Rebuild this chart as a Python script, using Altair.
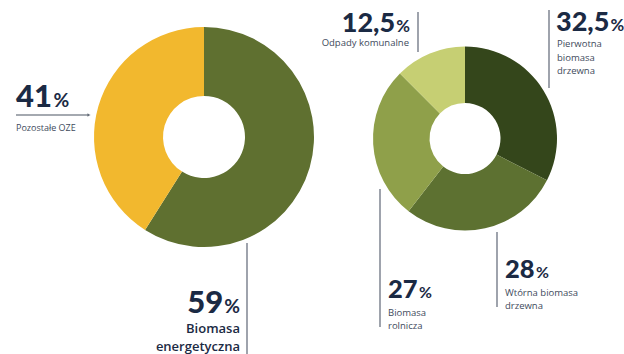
import altair as alt
import pandas as pd

# ---- data ----
left_labels = ["Biomasa energetyczna", "Pozostałe OZE"]
left_values = [59, 41]
left_colors = ["#5f7030", "#f2b82e"]

right_labels = ["Pierwotna biomasa drzewna", "Wtórna biomasa drzewna",
                "Biomasa rolnicza", "Odpady komunalne"]
right_values = [32.5, 28, 27, 12.5]
right_colors = ["#34461b", "#5d7131", "#8fa04a", "#c6cf73"]


def fmt(v):
    return (str(int(v)) if float(v).is_integer() else str(v)).replace(".", ",")


NAVY = "#1b2a44"
GREY = "#3e4a5c"
LINE = "#6b7280"
BIG_FONT = "Lato"
SMALL_FONT = "Open Sans"

dummy = alt.Data(values=[{"a": 1}])


def donut(labels, values, colors, cx, cy, r_in, r_out):
    df = pd.DataFrame({"label": labels, "value": values, "idx": range(len(labels))})
    return alt.Chart(df).mark_arc(innerRadius=r_in, outerRadius=r_out, stroke=None).encode(
        theta=alt.Theta("value:Q", stack=True),
        order=alt.Order("idx:Q"),
        color=alt.Color("label:N", scale=alt.Scale(domain=labels, range=colors), legend=None),
        x=alt.value(cx),
        y=alt.value(cy),
    )


def txt(s, x, y, size, align="left", baseline="alphabetic", color=NAVY,
        font=SMALL_FONT, weight="normal", line_height=None):
    kw = dict(text=s, fontSize=size, align=align, baseline=baseline, color=color,
              font=font, fontWeight=weight)
    if line_height:
        kw["lineHeight"] = line_height
    return alt.Chart(dummy).mark_text(**kw).encode(x=alt.value(x), y=alt.value(y))


def big(value, x, y, size, align="left"):
    num = fmt(value)
    pct_size = size * 0.62
    num_w = size * 0.58 * len(num.replace(",", "")) + (size * 0.22 if "," in num else 0)
    gap = 1.5
    if align == "left":
        return [txt(num, x, y, size, "left", font=BIG_FONT, weight=900),
                txt("%", x + num_w + gap, y, pct_size, "left", font=BIG_FONT, weight=700)]
    pct_w = pct_size * 0.80
    return [txt("%", x, y, pct_size, "right", font=BIG_FONT, weight=700),
            txt(num, x - pct_w - gap, y, size, "right", font=BIG_FONT, weight=900)]


def vline(x, y1, y2):
    return alt.Chart(dummy).mark_rule(color=LINE, strokeWidth=1.3).encode(
        x=alt.value(x), y=alt.value(y1), y2=alt.value(y2))


def hline(x1, x2, y):
    return alt.Chart(dummy).mark_rule(color="#4b5563", strokeWidth=1.2).encode(
        x=alt.value(x1), x2=alt.value(x2), y=alt.value(y))


layers = []
layers.append(donut(left_labels, left_values, left_colors, 204, 137, 41, 110))
layers.append(donut(right_labels, right_values, right_colors, 465, 138.5, 35.5, 92))

# left donut annotations
layers += big(left_values[1], 16, 107, 31, "left")
layers.append(hline(16, 89, 115))
layers.append(alt.Chart(dummy).mark_point(shape="triangle-right", size=14, filled=True,
                                          color="#4b5563").encode(
    x=alt.value(89), y=alt.value(115)))
layers.append(txt(left_labels[1], 16, 128, 9, baseline="middle", color=GREY))

layers += big(left_values[0], 240, 313, 31, "right")
layers.append(vline(247, 243, 354))
layers.append(txt(["Biomasa", "energetyczna"], 240, 329, 13, align="right",
                  baseline="middle", color=NAVY, weight=600, line_height=18))

# right donut annotations
layers += big(right_values[3], 410, 32, 27, "right")
layers.append(vline(418, 12, 52))
layers.append(txt(right_labels[3], 409, 43, 9.5, align="right", baseline="middle", color=GREY))

layers += big(right_values[0], 556, 31, 27, "left")
layers.append(vline(549, 10, 88))
layers.append(txt(["Pierwotna", "biomasa", "drzewna"], 557, 44, 9.5, baseline="middle",
                  color=GREY, line_height=13.5))

layers += big(right_values[2], 388, 298, 25.5, "left")
layers.append(vline(380, 189, 327))
layers.append(txt(["Biomasa", "rolnicza"], 388, 313, 9.5, baseline="middle",
                  color=GREY, line_height=12.5))

layers += big(right_values[1], 505, 278, 25.5, "left")
layers.append(vline(497, 232, 307))
layers.append(txt(["Wtórna biomasa", "drzewna"], 505, 293, 9.5, baseline="middle",
                  color=GREY, line_height=12.5))

chart = alt.layer(*layers).resolve_scale(color="independent", theta="independent").properties(
    width=624, height=354, padding=0, autosize="none", background="white"
).configure_view(stroke=None)

chart.save("out.html", embed_options={"renderer": "svg", "actions": False})
